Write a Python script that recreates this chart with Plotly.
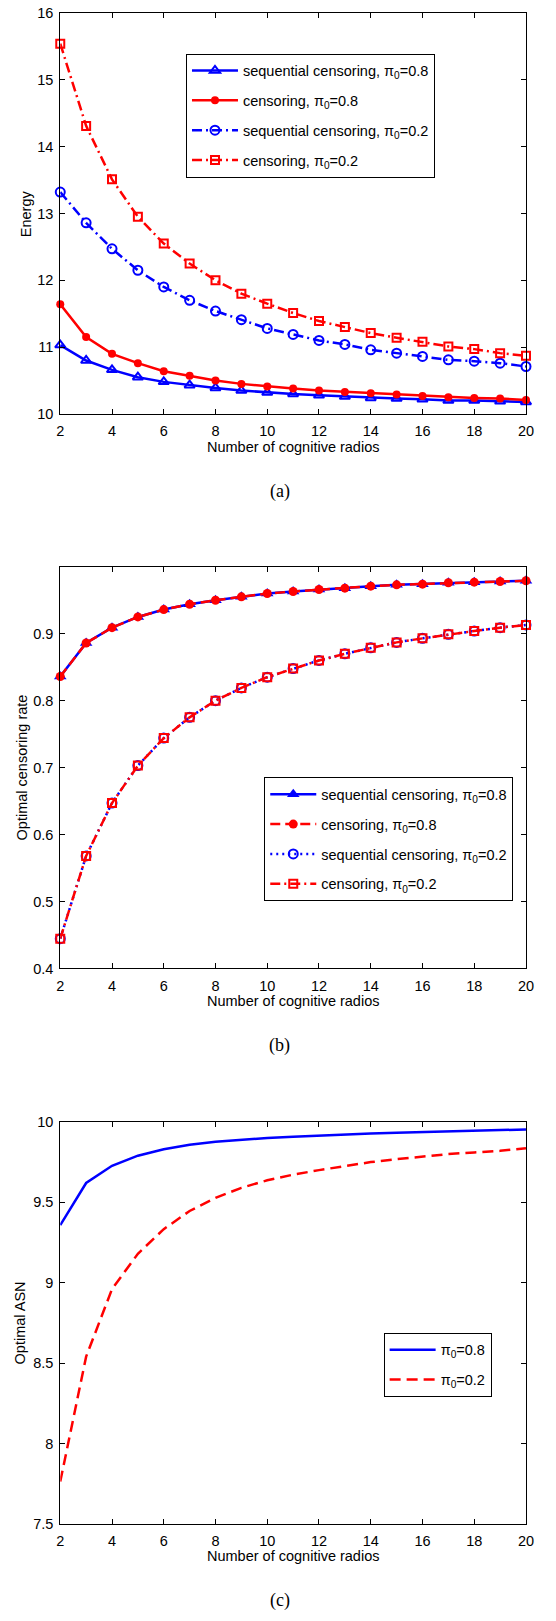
import plotly.graph_objects as go

# ---------------- data ----------------
N = list(range(2, 21))
x_ticks = list(range(2, 21, 2))

# (a) Energy
energy_seq_08 = [11.03, 10.80, 10.66, 10.55, 10.48, 10.43, 10.39, 10.35, 10.32, 10.30,
                 10.28, 10.26, 10.24, 10.23, 10.22, 10.20, 10.20, 10.19, 10.18]
energy_cens_08 = [11.64, 11.15, 10.90, 10.76, 10.64, 10.57, 10.50, 10.45, 10.41, 10.38,
                  10.35, 10.33, 10.31, 10.29, 10.27, 10.25, 10.24, 10.23, 10.21]
energy_seq_02 = [13.32, 12.86, 12.47, 12.15, 11.90, 11.70, 11.54, 11.41, 11.28, 11.19,
                 11.10, 11.04, 10.96, 10.91, 10.86, 10.81, 10.79, 10.76, 10.71]
energy_cens_02 = [15.54, 14.31, 13.51, 12.95, 12.55, 12.25, 12.00, 11.80, 11.65, 11.51,
                  11.39, 11.30, 11.21, 11.14, 11.08, 11.01, 10.97, 10.91, 10.87]
energy_yticks = [10, 11, 12, 13, 14, 15, 16]

# (b) Optimal censoring rate
rate_seq_08 = [0.836, 0.886, 0.909, 0.925, 0.936, 0.944, 0.950, 0.955, 0.960, 0.963,
               0.966, 0.968, 0.971, 0.973, 0.974, 0.976, 0.977, 0.978, 0.979]
rate_cens_08 = [0.836, 0.886, 0.909, 0.925, 0.936, 0.944, 0.950, 0.955, 0.960, 0.963,
                0.966, 0.968, 0.971, 0.973, 0.974, 0.976, 0.977, 0.978, 0.979]
rate_seq_02 = [0.4445, 0.568, 0.647, 0.703, 0.744, 0.775, 0.800, 0.819, 0.835, 0.848,
               0.860, 0.870, 0.879, 0.887, 0.893, 0.899, 0.904, 0.909, 0.913]
rate_cens_02 = [0.4445, 0.568, 0.647, 0.703, 0.744, 0.775, 0.800, 0.819, 0.835, 0.848,
                0.860, 0.870, 0.879, 0.887, 0.893, 0.899, 0.904, 0.909, 0.913]
rate_yticks = [0.4, 0.5, 0.6, 0.7, 0.8, 0.9]

# (c) Optimal ASN
asn_08 = [9.358, 9.62, 9.727, 9.79, 9.83, 9.858, 9.877, 9.889, 9.90, 9.908,
          9.916, 9.922, 9.928, 9.932, 9.936, 9.94, 9.944, 9.948, 9.953]
asn_02 = [7.763, 8.54, 8.96, 9.18, 9.333, 9.446, 9.528, 9.59, 9.637, 9.672,
          9.70, 9.727, 9.75, 9.768, 9.785, 9.80, 9.81, 9.82, 9.836]
asn_yticks = [7.5, 8, 8.5, 9, 9.5, 10]
asn_yticktext = ["7.5", "8", "8.5", "9", "9.5", "10"]

BLUE = "#0000ff"
RED = "#ff0000"
W, H = 556, 1621
LW = 2.5
FS = 14.5
SANS = "Liberation Sans"
SERIF = "Liberation Serif"

fig = go.Figure()

def tr(x, y, name, color, dash, symbol, msize, filled, xa, ya, leg, grp):
    marker = None
    mode = "lines"
    if symbol is not None:
        mode = "lines+markers"
        if filled:
            marker = dict(symbol=symbol, size=msize, color=color, line=dict(width=0))
        else:
            marker = dict(symbol=symbol + "-open", size=msize, color=color,
                          line=dict(width=2, color=color))
    fig.add_trace(go.Scatter(x=x, y=y, name=name, mode=mode,
                             line=dict(color=color, width=LW, dash=dash),
                             marker=marker, xaxis=xa, yaxis=ya, legend=leg,
                             legendgroup=grp, cliponaxis=False, hoverinfo="skip"))

# (a)
tr(N, energy_seq_08, "sequential censoring, π<sub>0</sub>=0.8", BLUE, "solid", "triangle-up", 9, False, "x", "y", "legend", "a1")
tr(N, energy_cens_08, "censoring, π<sub>0</sub>=0.8", RED, "solid", "circle", 8, True, "x", "y", "legend", "a2")
tr(N, energy_seq_02, "sequential censoring, π<sub>0</sub>=0.2", BLUE, "10px,4px,2px,4px", "circle", 9, False, "x", "y", "legend", "a3")
tr(N, energy_cens_02, "censoring, π<sub>0</sub>=0.2", RED, "10px,4px,2px,4px", "square", 8, False, "x", "y", "legend", "a4")

# (b)
tr(N, rate_seq_08, "sequential censoring, π<sub>0</sub>=0.8", BLUE, "solid", "triangle-up", 11, True, "x2", "y2", "legend2", "b1")
tr(N, rate_cens_08, "censoring, π<sub>0</sub>=0.8", RED, "10px,5px", "circle", 9, True, "x2", "y2", "legend2", "b2")
tr(N, rate_seq_02, "sequential censoring, π<sub>0</sub>=0.2", BLUE, "2px,4px", "circle", 9, False, "x2", "y2", "legend2", "b3")
tr(N, rate_cens_02, "censoring, π<sub>0</sub>=0.2", RED, "10px,4px,2px,4px", "square", 8, False, "x2", "y2", "legend2", "b4")

# (c)
tr(N, asn_08, "π<sub>0</sub>=0.8", BLUE, "solid", None, 0, False, "x3", "y3", "legend3", "c1")
tr(N, asn_02, "π<sub>0</sub>=0.2", RED, "11px,6px", None, 0, False, "x3", "y3", "legend3", "c2")

xdom = [57.5 / W, 533.5 / W]
def ydom(top, bottom):
    return [1 - bottom / H, 1 - top / H]

axis_common = dict(showline=True, linecolor="black", linewidth=1, mirror="ticks",
                   ticks="inside", ticklen=5, tickcolor="black", tickwidth=1,
                   showgrid=False, zeroline=False,
                   tickfont=dict(family=SANS, size=FS, color="black"))

def xaxis(anchor):
    return dict(axis_common, domain=xdom, range=[2, 20], tickvals=x_ticks,
                anchor=anchor, ticklabelstandoff=4)

def yaxis(anchor, top, bottom, rng, tv, tt=None):
    d = dict(axis_common, domain=ydom(top, bottom), range=rng, tickvals=tv,
             anchor=anchor, ticklabelstandoff=3)
    if tt is not None:
        d["ticktext"] = tt
    return d

legend_common = dict(bgcolor="white", bordercolor="black", borderwidth=1,
                     font=dict(family=SANS, size=FS, color="black"),
                     xanchor="left", yanchor="top", xref="paper", yref="paper",
                     tracegroupgap=8, traceorder="grouped", itemwidth=46)

fig.update_layout(
    width=W, height=H, margin=dict(l=0, r=0, t=0, b=0),
    paper_bgcolor="white", plot_bgcolor="white",
    showlegend=True, hovermode=False,
    xaxis=xaxis("y"),
    yaxis=yaxis("x", 5, 410, [10, 16], energy_yticks),
    xaxis2=xaxis("y2"),
    yaxis2=yaxis("x2", 564.3, 970, [0.4, 1.0], rate_yticks),
    xaxis3=xaxis("y3"),
    yaxis3=yaxis("x3", 1125, 1531, [7.5, 10], asn_yticks, asn_yticktext),
    legend=dict(legend_common, x=186 / W, y=1 - 46 / H),
    legend2=dict(legend_common, x=266 / W, y=1 - 777 / H),
    legend3=dict(legend_common, x=388 / W, y=1 - 1338 / H),
)

def ann(text, x, y, size, family, angle=0):
    fig.add_annotation(text=text, x=x / W, y=1 - y / H, xref="paper", yref="paper",
                       showarrow=False, textangle=angle, xanchor="center", yanchor="middle",
                       font=dict(family=family, size=size, color="black"))

# axis titles
for yc in (443, 1003.3, 1563.3):
    ann("Number of cognitive radios", 295, yc, FS, SANS)
ann("Energy", 23.3, 207.5, FS, SANS, -90)
ann("Optimal censoring rate", 18.4, 767, FS, SANS, -90)
ann("Optimal ASN", 15.9, 1328, FS, SANS, -90)

# captions
ann("(a)", 282, 488, 18, SERIF)
ann("(b)", 282, 1048.3, 18, SERIF)
ann("(c)", 282, 1608.3, 18, SERIF)

fig.write_html(
    "out.html",
    config={"displayModeBar": False, "staticPlot": True},
    post_script="document.body.style.margin='0px';document.body.style.overflow='hidden';",
)
